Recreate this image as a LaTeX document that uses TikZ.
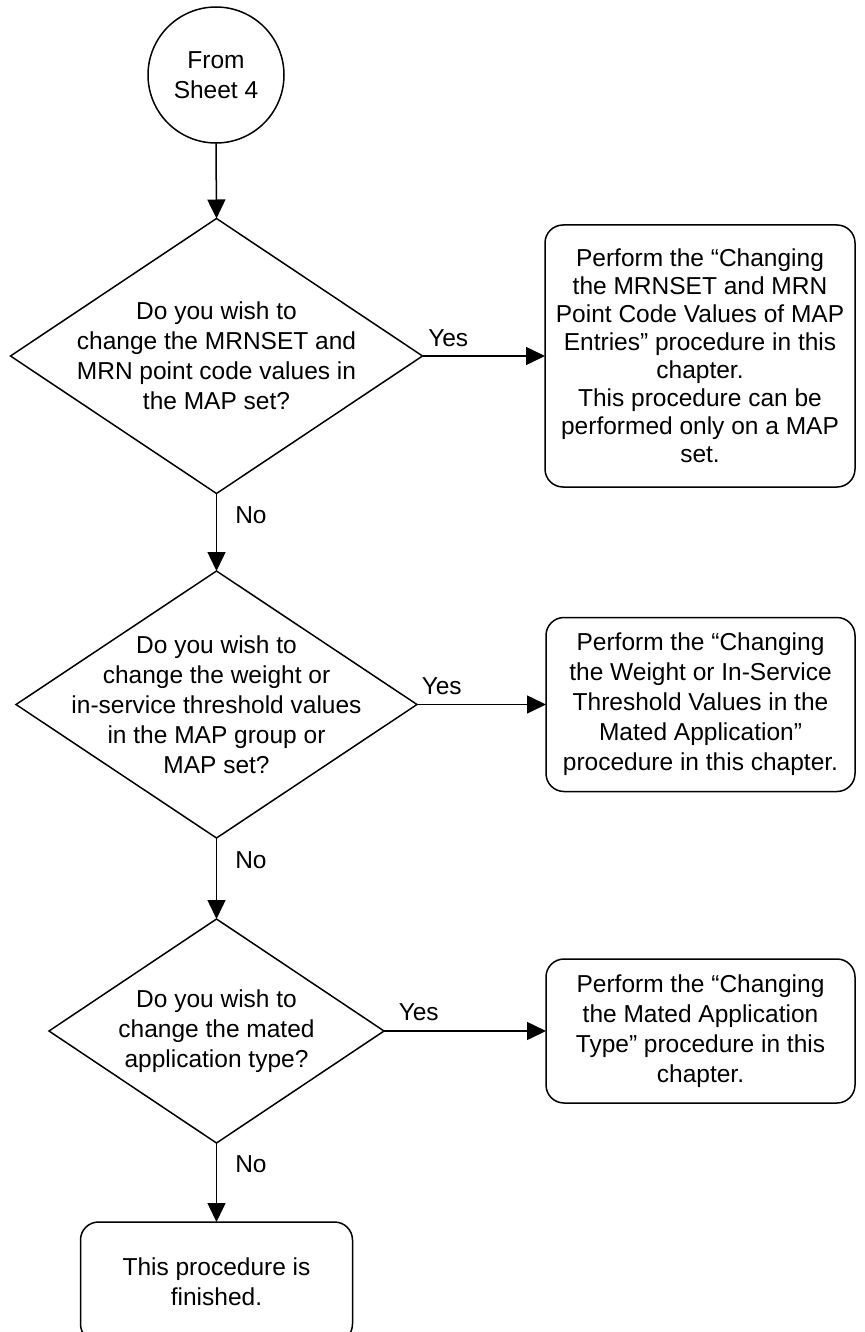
\documentclass[tikz,border=0pt]{standalone}
\usepackage{fontspec}
\setmainfont{Liberation Sans}
\usetikzlibrary{arrows.meta,shapes.geometric}

\begin{document}
\begin{tikzpicture}[x=1pt,y=-1pt,line width=1.5pt,
  txt/.style={align=center,inner sep=0pt,font=\fontsize{24.5}{30}\selectfont},
  lbl/.style={inner sep=0pt,font=\fontsize{24.5}{30}\selectfont},
  connector/.style={draw,circle,minimum size=136pt,outer sep=0pt,txt},
  decision/.style={draw,diamond,inner sep=0pt,outer sep=0pt},
  process/.style={draw,rectangle,rounded corners=18pt,outer sep=0pt,txt},
  flow/.style={-{Triangle[length=19pt,width=18pt]}}]
\useasboundingbox (0,0) rectangle (864,1332);

\node[connector] (start) at (216,75) {From\\Sheet 4};

\node[decision,minimum width=412pt,minimum height=275pt] (q1) at (216.5,356) {};
\node[txt] (q1text) at (q1) {Do you wish to\\change the MRNSET and\\MRN point code values in\\the MAP set?};
\node[process,minimum width=310pt,minimum height=262pt,
  font=\fontsize{24.5}{28}\selectfont] (b1) at (700,356)
  {Perform the “Changing\\the MRNSET and MRN\\Point Code Values of MAP\\Entries” procedure in this\\chapter.\\This procedure can be\\performed only on a MAP\\set.};

\node[decision,minimum width=401pt,minimum height=267pt] (q2) at (216.5,704.5) {};
\node[txt] (q2text) at (q2) {Do you wish to\\change the weight or\\in-service threshold values\\in the MAP group or\\MAP set?};
\node[process,minimum width=309pt,minimum height=174pt] (b2) at (700.5,704.5)
  {Perform the “Changing\\the Weight or In-Service\\Threshold Values in the\\Mated Application”\\procedure in this chapter.};

\node[decision,minimum width=335pt,minimum height=224pt] (q3) at (216.5,1031) {};
\node[txt] (q3text) at (q3) {Do you wish to\\change the mated\\application type?};
\node[process,minimum width=309pt,minimum height=144pt] (b3) at (700.5,1031)
  {Perform the “Changing\\the Mated Application\\Type” procedure in this\\chapter.};

\node[process,minimum width=272pt,minimum height=120pt] (done) at (216.5,1282)
  {This procedure is\\finished.};

% main line
\draw[flow] (start.south) -- (q1.north);
\draw[flow] (q1.south) -- node[lbl,pos=0,anchor=base west,xshift=18pt,yshift=-30pt] {No} (q2.north);
\draw[flow] (q2.south) -- node[lbl,pos=0,anchor=base west,xshift=18pt,yshift=-30pt] {No} (q3.north);
\draw[flow] (q3.south) -- node[lbl,pos=0,anchor=base west,xshift=18pt,yshift=-29pt] {No} (done.north);

% yes branches
\draw[flow] (q1.east) -- node[lbl,pos=0,anchor=base west,xshift=5pt,yshift=10pt] {Yes} (b1.west);
\draw[flow] (q2.east) -- node[lbl,pos=0,anchor=base west,xshift=4pt,yshift=10pt] {Yes} (b2.west);
\draw[flow] (q3.east) -- node[lbl,pos=0,anchor=base west,xshift=14pt,yshift=11pt] {Yes} (b3.west);
\end{tikzpicture}
\end{document}
